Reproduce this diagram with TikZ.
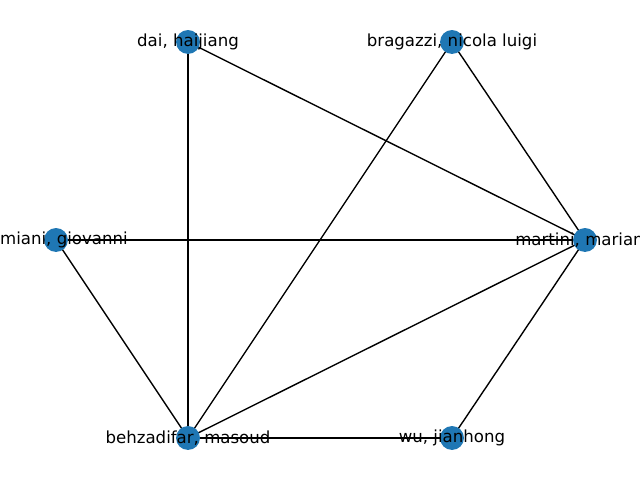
\documentclass[tikz,border=0pt]{standalone}
\usepackage{fontspec}
\setmainfont{DejaVu Sans}
\definecolor{nodeblue}{RGB}{31, 119, 180}
\usepackage{tikz}
\usetikzlibrary{positioning}

\tikzset{
  vertex/.style={circle, fill=nodeblue, inner sep=0pt, minimum size=24pt*0.72},
  edge/.style={black, line width=1pt},
  authorlabel/.style={font=\fontsize{12}{14}\selectfont, inner sep=0pt}
}

\begin{document}
\begin{tikzpicture}[x=0.0254cm, y=-0.0254cm]
  % Canvas
  \useasboundingbox (0, 0) rectangle (640, 480);
  \clip (0, 0) rectangle (640, 480);

  % Positions
  \coordinate (dai) at (188, 42);
  \coordinate (bragazzi) at (452, 42);
  \coordinate (miani) at (56, 240);
  \coordinate (martini) at (585, 240);
  \coordinate (behzadifar) at (188, 438);
  \coordinate (wu) at (452, 438);

  % Edges
  \draw[edge] (dai) -- (behzadifar);
  \draw[edge] (dai) -- (martini);
  \draw[edge] (bragazzi) -- (behzadifar);
  \draw[edge] (bragazzi) -- (martini);
  \draw[edge] (miani) -- (martini);
  \draw[edge] (miani) -- (behzadifar);
  \draw[edge] (behzadifar) -- (martini);
  \draw[edge] (behzadifar) -- (wu);
  \draw[edge] (martini) -- (wu);

  % Vertices
  \node[vertex] (v-dai) at (dai) {};
  \node[vertex] (v-bragazzi) at (bragazzi) {};
  \node[vertex] (v-miani) at (miani) {};
  \node[vertex] (v-martini) at (martini) {};
  \node[vertex] (v-behzadifar) at (behzadifar) {};
  \node[vertex] (v-wu) at (wu) {};

  % Labels
  \node[authorlabel] (l-dai) at (dai) {dai, haijiang};
  \node[authorlabel] (l-bragazzi) at (bragazzi) {bragazzi, nicola luigi};
  \node[authorlabel, anchor=east] (l-miani) at (128, 240) {miani, giovanni};
  \node[authorlabel, anchor=west] (l-martini) at (515, 240) {martini, marian};
  \node[authorlabel] (l-behzadifar) at (behzadifar) {behzadifar, masoud};
  \node[authorlabel] (l-wu) at (wu) {wu, jianhong};
\end{tikzpicture}
\end{document}
